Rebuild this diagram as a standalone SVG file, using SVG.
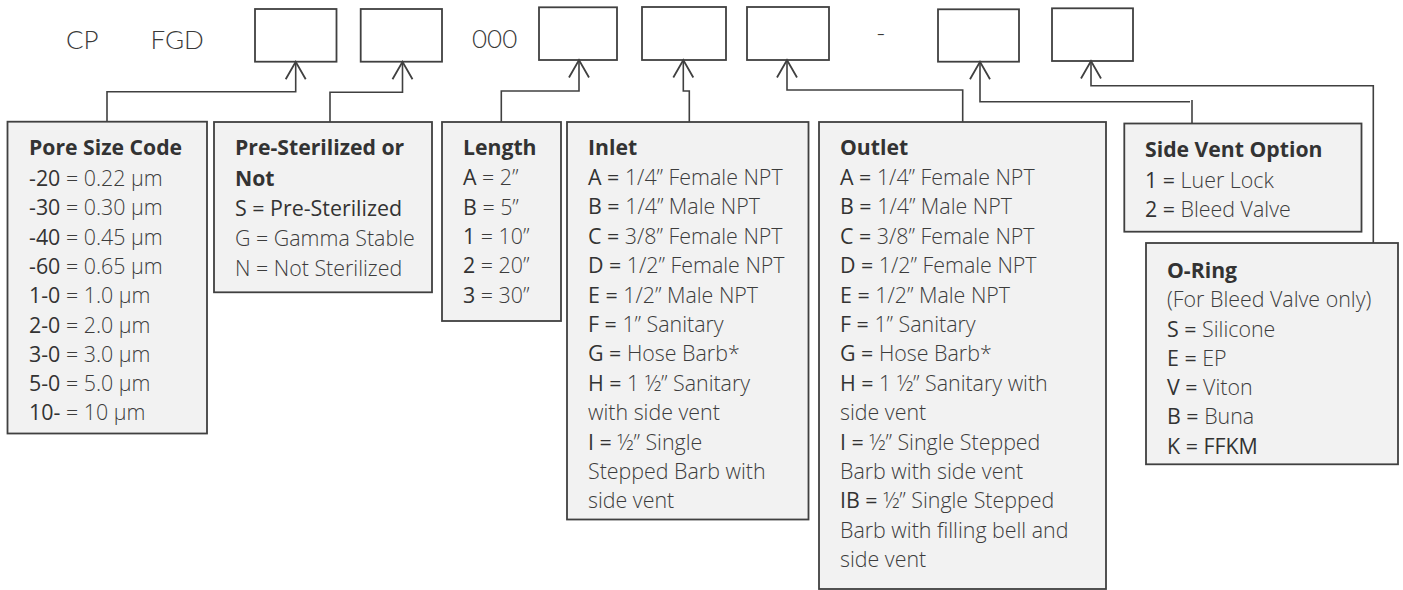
<svg xmlns="http://www.w3.org/2000/svg" width="1403" height="590" viewBox="0 0 1403 590">
<defs>
<style>
.code{font-family:Lato,"Open Sans","Liberation Sans",sans-serif;font-size:26px;fill:#3a3a3a;font-weight:300}
.slot{fill:#fff;stroke:#404040;stroke-width:1.8}
.box{fill:#f2f2f2;stroke:#404040;stroke-width:1.8}
.tx{font-family:"Open Sans",Lato,"Liberation Sans",sans-serif;font-size:21.4px;fill:#3c3c3c;font-weight:300}
.h{font-weight:700;fill:#333;font-size:21.2px}
.k{font-weight:400;fill:#333}
.conn path{fill:none;stroke:#404040;stroke-width:1.6}
</style>
<marker id="ah" markerUnits="userSpaceOnUse" orient="auto-start-reverse" refX="0" refY="0" markerWidth="40" markerHeight="40" overflow="visible">
<polyline points="-17.5,-10 0,0 -17.5,10" fill="none" stroke="#404040" stroke-width="1.8"/>
</marker>
</defs>
<g id="code-prefix">
<text class="code" x="66" y="49">CP</text>
<text class="code" x="150.5" y="49">FGD</text>
<text class="code" x="472" y="48">000</text>
<text class="code" x="876" y="42">-</text>
</g>
<g id="slot-1"><rect class="slot" x="255" y="9" width="81.5" height="52.7"/></g>
<g id="slot-2"><rect class="slot" x="360.7" y="9" width="81.3" height="52.7"/></g>
<g id="slot-3"><rect class="slot" x="539" y="7.3" width="78" height="52.7"/></g>
<g id="slot-4"><rect class="slot" x="642" y="7" width="84" height="53"/></g>
<g id="slot-5"><rect class="slot" x="747" y="7" width="82" height="53"/></g>
<g id="slot-6"><rect class="slot" x="938" y="9.3" width="81" height="52.4"/></g>
<g id="slot-7"><rect class="slot" x="1052" y="8.3" width="81" height="52.7"/></g>
<g class="conn" id="connectors">
<path d="M295.7,61.7 V91.7 H107 V121.7" marker-start="url(#ah)"/>
<path d="M402.5,61.7 V92.3 H330 V124" marker-start="url(#ah)"/>
<path d="M579,60 V91 H501.3 V122" marker-start="url(#ah)"/>
<path d="M683.3,60 V91 H689.3 V122" marker-start="url(#ah)"/>
<path d="M787,60 V90 H962.7 V122" marker-start="url(#ah)"/>
<path d="M980,61.7 V101.7 H1190" marker-start="url(#ah)"/>
<path d="M1192,100 V124"/>
<path d="M1091,61 V85.7 H1373.3 V243" marker-start="url(#ah)"/>
</g>
<g id="pore-size">
<rect class="box" x="7.5" y="121.7" width="199.5" height="311.8"/>
<text class="tx" x="29"><tspan class="h" x="29" y="155">Pore Size Code</tspan>
<tspan x="29" y="186"><tspan class="k">-20</tspan> = 0.22 µm</tspan>
<tspan x="29" y="215.3"><tspan class="k">-30</tspan> = 0.30 µm</tspan>
<tspan x="29" y="244.6"><tspan class="k">-40</tspan> = 0.45 µm</tspan>
<tspan x="29" y="273.9"><tspan class="k">-60</tspan> = 0.65 µm</tspan>
<tspan x="29" y="303.2"><tspan class="k">1-0</tspan> = 1.0 µm</tspan>
<tspan x="29" y="332.5"><tspan class="k">2-0</tspan> = 2.0 µm</tspan>
<tspan x="29" y="361.8"><tspan class="k">3-0</tspan> = 3.0 µm</tspan>
<tspan x="29" y="391.1"><tspan class="k">5-0</tspan> = 5.0 µm</tspan>
<tspan x="29" y="420.4"><tspan class="k">10-</tspan> = 10 µm</tspan></text>
</g>
<g id="pre-sterilized">
<rect class="box" x="214" y="122" width="218" height="170.3"/>
<text class="tx"><tspan class="h" x="235" y="155">Pre-Sterilized or</tspan>
<tspan class="h" x="235" y="186">Not</tspan>
<tspan class="k" x="235" y="216">S = Pre-Sterilized</tspan>
<tspan x="235" y="246">G = Gamma Stable</tspan>
<tspan x="235" y="275.5">N = Not Sterilized</tspan></text>
</g>
<g id="length">
<rect class="box" x="442" y="122" width="119" height="199"/>
<text class="tx"><tspan class="h" x="463" y="155">Length</tspan>
<tspan x="463" y="185"><tspan class="k">A</tspan> = 2”</tspan>
<tspan x="463" y="214.5"><tspan class="k">B</tspan> = 5”</tspan>
<tspan x="463" y="244"><tspan class="k">1</tspan> = 10”</tspan>
<tspan x="463" y="273.4"><tspan class="k">2</tspan> = 20”</tspan>
<tspan x="463" y="302.8"><tspan class="k">3</tspan> = 30”</tspan></text>
</g>
<g id="inlet">
<rect class="box" x="567" y="122" width="241.5" height="397.5"/>
<text class="tx"><tspan class="h" x="588" y="155">Inlet</tspan>
<tspan x="588" y="185"><tspan class="k">A =</tspan> 1/4” Female NPT</tspan>
<tspan x="588" y="214.4"><tspan class="k">B =</tspan> 1/4” Male NPT</tspan>
<tspan x="588" y="243.8"><tspan class="k">C =</tspan> 3/8” Female NPT</tspan>
<tspan x="588" y="273.2"><tspan class="k">D =</tspan> 1/2” Female NPT</tspan>
<tspan x="588" y="302.6"><tspan class="k">E =</tspan> 1/2” Male NPT</tspan>
<tspan x="588" y="332"><tspan class="k">F =</tspan> 1” Sanitary</tspan>
<tspan x="588" y="361.4"><tspan class="k">G =</tspan> Hose Barb*</tspan>
<tspan x="588" y="390.8"><tspan class="k">H =</tspan> 1 ½” Sanitary</tspan>
<tspan x="588" y="420.2">with side vent</tspan>
<tspan x="588" y="449.6"><tspan class="k">I =</tspan> ½” Single</tspan>
<tspan x="588" y="479">Stepped Barb with</tspan>
<tspan x="588" y="508.4">side vent</tspan></text>
</g>
<g id="outlet">
<rect class="box" x="819" y="122" width="287" height="467"/>
<text class="tx"><tspan class="h" x="840" y="155">Outlet</tspan>
<tspan x="840" y="185"><tspan class="k">A =</tspan> 1/4” Female NPT</tspan>
<tspan x="840" y="214.4"><tspan class="k">B =</tspan> 1/4” Male NPT</tspan>
<tspan x="840" y="243.8"><tspan class="k">C =</tspan> 3/8” Female NPT</tspan>
<tspan x="840" y="273.2"><tspan class="k">D =</tspan> 1/2” Female NPT</tspan>
<tspan x="840" y="302.6"><tspan class="k">E =</tspan> 1/2” Male NPT</tspan>
<tspan x="840" y="332"><tspan class="k">F =</tspan> 1” Sanitary</tspan>
<tspan x="840" y="361.4"><tspan class="k">G =</tspan> Hose Barb*</tspan>
<tspan x="840" y="390.8"><tspan class="k">H =</tspan> 1 ½” Sanitary with</tspan>
<tspan x="840" y="420.2">side vent</tspan>
<tspan x="840" y="449.6"><tspan class="k">I =</tspan> ½” Single Stepped</tspan>
<tspan x="840" y="479">Barb with side vent</tspan>
<tspan x="840" y="508.4"><tspan class="k">IB =</tspan> ½” Single Stepped</tspan>
<tspan x="840" y="537.8">Barb with filling bell and</tspan>
<tspan x="840" y="567.2">side vent</tspan></text>
</g>
<g id="side-vent">
<rect class="box" x="1124.3" y="123.5" width="237.2" height="108.2"/>
<text class="tx"><tspan class="h" x="1145" y="157.3">Side Vent Option</tspan>
<tspan x="1145" y="187.5"><tspan class="k">1 =</tspan> Luer Lock</tspan>
<tspan x="1145" y="216.7"><tspan class="k">2 =</tspan> Bleed Valve</tspan></text>
</g>
<g id="o-ring">
<rect class="box" x="1146" y="243" width="252" height="221.3"/>
<text class="tx"><tspan class="h" x="1167" y="278.3">O-Ring</tspan>
<tspan x="1167" y="307">(For Bleed Valve only)</tspan>
<tspan x="1167" y="336.5"><tspan class="k">S =</tspan> Silicone</tspan>
<tspan x="1167" y="365.8"><tspan class="k">E =</tspan> EP</tspan>
<tspan x="1167" y="395.1"><tspan class="k">V =</tspan> Viton</tspan>
<tspan x="1167" y="424.4"><tspan class="k">B =</tspan> Buna</tspan>
<tspan class="k" x="1167" y="453.7">K = FFKM</tspan></text>
</g>
</svg>
